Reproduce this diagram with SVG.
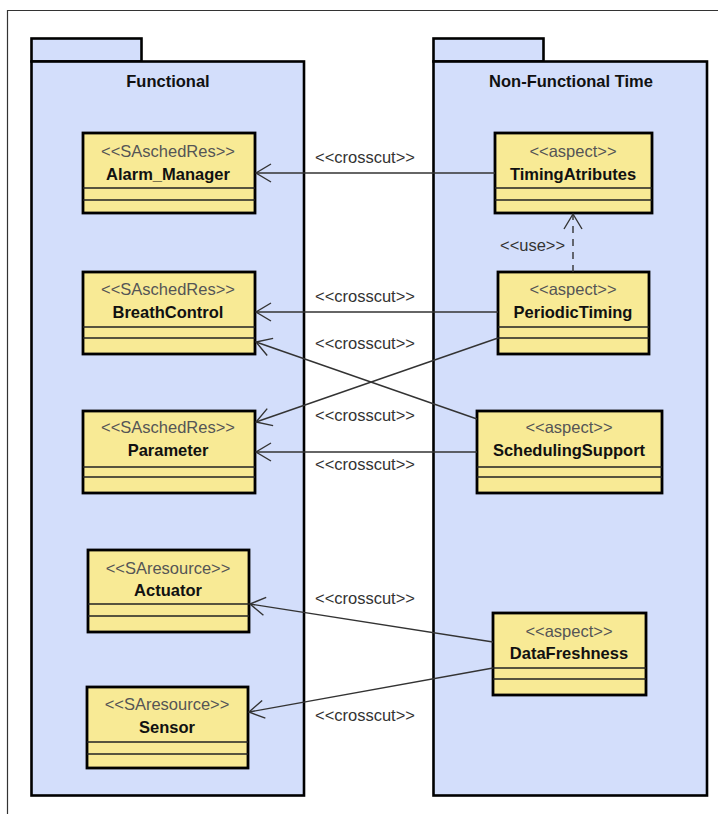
<svg xmlns="http://www.w3.org/2000/svg" width="718" height="814" viewBox="0 0 718 814">
  <style>
    .pkg { fill: #D3DEFB; stroke: #000; stroke-width: 2.6; }
    .cls { fill: #F8EA95; stroke: #000; stroke-width: 2.8; }
    .sep { stroke: #222; stroke-width: 1.3; }
    .title { font-family: "Liberation Sans", Arial, sans-serif; font-size: 16.5px; font-weight: bold; fill: #111; text-anchor: middle; }
    .name { font-family: "Liberation Sans", Arial, sans-serif; font-size: 16.5px; font-weight: bold; fill: #111; text-anchor: middle; }
    .stereo { font-family: "Liberation Sans", Arial, sans-serif; font-size: 16.5px; fill: #555; text-anchor: middle; }
    .lbl { font-family: "Liberation Sans", Arial, sans-serif; font-size: 16.5px; fill: #333; }
    .edge { fill: none; stroke: #333; stroke-width: 1.4; }
    .dash { stroke-dasharray: 7 6; }
  </style>
  <defs>
    <marker id="open" viewBox="-16 -10 18 20" refX="0" refY="0" markerWidth="18" markerHeight="20" markerUnits="userSpaceOnUse" orient="auto">
      <path d="M -15 -9 L 0 0 L -15 9" fill="none" stroke="#333" stroke-width="1.4"/>
    </marker>
  </defs>

  <rect x="0" y="0" width="718" height="814" fill="#fff"/>
  <!-- diagram frame -->
  <path d="M 7.5 814 L 7.5 10.5 L 718 10.5" fill="none" stroke="#333" stroke-width="1.2"/>

  <!-- packages -->
  <g id="pkg-functional">
    <rect class="pkg" x="31.5" y="38.5" width="110" height="23"/>
    <rect class="pkg" x="31.5" y="61.5" width="272.5" height="734"/>
    <text class="title" x="168" y="87">Functional</text>
  </g>
  <g id="pkg-nonfunctional-time">
    <rect class="pkg" x="433.5" y="38.5" width="110" height="23"/>
    <rect class="pkg" x="433.5" y="61.5" width="273.5" height="734"/>
    <text class="title" x="571" y="87">Non-Functional Time</text>
  </g>

  <!-- Functional classes -->
  <g id="alarm-manager">
    <rect class="cls" x="83" y="133" width="172" height="80"/>
    <line class="sep" x1="83" y1="188" x2="255" y2="188"/>
    <line class="sep" x1="83" y1="200" x2="255" y2="200"/>
    <text class="stereo" x="168" y="157">&lt;&lt;SAschedRes&gt;&gt;</text>
    <text class="name" x="168" y="180">Alarm_Manager</text>
  </g>
  <g id="breath-control">
    <rect class="cls" x="83" y="272" width="172" height="82"/>
    <line class="sep" x1="83" y1="327" x2="255" y2="327"/>
    <line class="sep" x1="83" y1="338" x2="255" y2="338"/>
    <text class="stereo" x="168" y="295">&lt;&lt;SAschedRes&gt;&gt;</text>
    <text class="name" x="168" y="318">BreathControl</text>
  </g>
  <g id="parameter">
    <rect class="cls" x="83" y="411" width="172" height="82"/>
    <line class="sep" x1="83" y1="467" x2="255" y2="467"/>
    <line class="sep" x1="83" y1="477" x2="255" y2="477"/>
    <text class="stereo" x="168" y="433">&lt;&lt;SAschedRes&gt;&gt;</text>
    <text class="name" x="168" y="456">Parameter</text>
  </g>
  <g id="actuator">
    <rect class="cls" x="88" y="550" width="161" height="82"/>
    <line class="sep" x1="88" y1="604" x2="249" y2="604"/>
    <line class="sep" x1="88" y1="616" x2="249" y2="616"/>
    <text class="stereo" x="168" y="574">&lt;&lt;SAresource&gt;&gt;</text>
    <text class="name" x="168" y="596">Actuator</text>
  </g>
  <g id="sensor">
    <rect class="cls" x="87" y="687" width="161" height="81"/>
    <line class="sep" x1="87" y1="742" x2="248" y2="742"/>
    <line class="sep" x1="87" y1="754" x2="248" y2="754"/>
    <text class="stereo" x="167" y="710">&lt;&lt;SAresource&gt;&gt;</text>
    <text class="name" x="167" y="733">Sensor</text>
  </g>

  <!-- Non-functional time aspects -->
  <g id="timing-atributes">
    <rect class="cls" x="495" y="133" width="157" height="80"/>
    <line class="sep" x1="495" y1="188" x2="652" y2="188"/>
    <line class="sep" x1="495" y1="200" x2="652" y2="200"/>
    <text class="stereo" x="573" y="157">&lt;&lt;aspect&gt;&gt;</text>
    <text class="name" x="573" y="180">TimingAtributes</text>
  </g>
  <g id="periodic-timing">
    <rect class="cls" x="498" y="272" width="151" height="82"/>
    <line class="sep" x1="498" y1="327" x2="649" y2="327"/>
    <line class="sep" x1="498" y1="338" x2="649" y2="338"/>
    <text class="stereo" x="573" y="295">&lt;&lt;aspect&gt;&gt;</text>
    <text class="name" x="573" y="318">PeriodicTiming</text>
  </g>
  <g id="scheduling-support">
    <rect class="cls" x="477" y="411" width="185" height="82"/>
    <line class="sep" x1="477" y1="467" x2="662" y2="467"/>
    <line class="sep" x1="477" y1="477" x2="662" y2="477"/>
    <text class="stereo" x="569" y="433">&lt;&lt;aspect&gt;&gt;</text>
    <text class="name" x="569" y="456">SchedulingSupport</text>
  </g>
  <g id="data-freshness">
    <rect class="cls" x="493" y="613" width="153" height="82"/>
    <line class="sep" x1="493" y1="668" x2="646" y2="668"/>
    <line class="sep" x1="493" y1="679" x2="646" y2="679"/>
    <text class="stereo" x="569" y="637">&lt;&lt;aspect&gt;&gt;</text>
    <text class="name" x="569" y="659">DataFreshness</text>
  </g>

  <!-- connectors -->
  <g id="connectors">
    <line class="edge" x1="495" y1="173" x2="256" y2="173" marker-end="url(#open)"/>
    <line class="edge" x1="498" y1="312" x2="256" y2="312" marker-end="url(#open)"/>
    <line class="edge" x1="477" y1="419" x2="256" y2="342" marker-end="url(#open)"/>
    <line class="edge" x1="498" y1="338" x2="256" y2="422" marker-end="url(#open)"/>
    <line class="edge" x1="477" y1="452" x2="256" y2="452" marker-end="url(#open)"/>
    <line class="edge" x1="493" y1="642" x2="250" y2="604" marker-end="url(#open)"/>
    <line class="edge" x1="493" y1="668" x2="249" y2="712" marker-end="url(#open)"/>
    <line class="edge dash" x1="573" y1="272" x2="573" y2="214" marker-end="url(#open)"/>

    <text class="lbl" x="315" y="163">&lt;&lt;crosscut&gt;&gt;</text>
    <text class="lbl" x="315" y="302">&lt;&lt;crosscut&gt;&gt;</text>
    <text class="lbl" x="315" y="349">&lt;&lt;crosscut&gt;&gt;</text>
    <text class="lbl" x="315" y="421">&lt;&lt;crosscut&gt;&gt;</text>
    <text class="lbl" x="315" y="470">&lt;&lt;crosscut&gt;&gt;</text>
    <text class="lbl" x="315" y="604">&lt;&lt;crosscut&gt;&gt;</text>
    <text class="lbl" x="315" y="721">&lt;&lt;crosscut&gt;&gt;</text>
    <text class="lbl" x="500" y="251">&lt;&lt;use&gt;&gt;</text>
  </g>
</svg>
